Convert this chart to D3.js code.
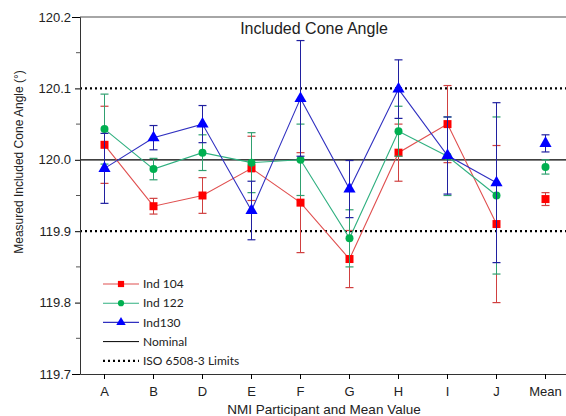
<!DOCTYPE html>
<html>
<head>
<meta charset="utf-8">
<script src="https://cdn.jsdelivr.net/npm/d3@7"></script>
<style>
  body { margin: 0; background: #fff; }
  text { font-family: "Liberation Sans", Arial, sans-serif; fill: #222; }
</style>
</head>
<body>
<svg width="566" height="416"></svg>
<script>
const categories = ["A", "B", "D", "E", "F", "G", "H", "I", "J", "Mean"];
const participants = ["A", "B", "D", "E", "F", "G", "H", "I", "J"];

const ind104 = [120.021, 119.935, 119.950, 119.988, 119.940, 119.861, 120.010, 120.050, 119.910];
const ind104Err = [0.054, 0.011, 0.025, 0.045, 0.070, 0.040, 0.040, 0.054, 0.110];
const ind122 = [120.043, 119.987, 120.010, 119.996, 120.000, 119.890, 120.040, 120.005, 119.950];
const ind122Err = [0.049, 0.015, 0.025, 0.042, 0.050, 0.040, 0.035, 0.055, 0.110];
const ind130 = [119.988, 120.031, 120.050, 119.929, 120.086, 119.959, 120.099, 120.006, 119.968];
const ind130Err = [0.049, 0.017, 0.026, 0.041, 0.081, 0.040, 0.041, 0.054, 0.112];

const meanValues = [119.945, 119.990, 120.023];
const meanErr = [0.009, 0.010, 0.012];

const nominal = 120.0;
const limits = [119.9, 120.1];
const yTicks = [119.7, 119.8, 119.9, 120.0, 120.1, 120.2];

const series = [
  { name: "Ind 104", values: ind104, err: ind104Err, mean: meanValues[0], meanErr: meanErr[0],
    line: "#e05050", bar: "#d04040", fill: "#ff0000", shape: d3.symbolSquare, size: 64 },
  { name: "Ind 122", values: ind122, err: ind122Err, mean: meanValues[1], meanErr: meanErr[1],
    line: "#30b080", bar: "#30a070", fill: "#00b050", shape: d3.symbolCircle, size: 50 },
  { name: "Ind130", values: ind130, err: ind130Err, mean: meanValues[2], meanErr: meanErr[2],
    line: "#3030c0", bar: "#2020a0", fill: "#0000ff", shape: d3.symbolTriangle, size: 64 }
];

const svg = d3.select("svg");
const plotLeft = 80, plotTop = 17, plotBottom = 374, plotRight = 570;

const x = d3.scaleBand().domain(categories).range([plotLeft, plotRight]);
const cx = (c) => x(c) + x.bandwidth() / 2;
const y = d3.scaleLinear().domain([119.7, 120.2]).range([plotBottom, plotTop]);

// frame top
svg.append("line").attr("x1", plotLeft).attr("x2", 566).attr("y1", plotTop).attr("y2", plotTop)
  .attr("stroke", "#888").attr("stroke-width", 1.5);

// reference lines
svg.append("line").attr("x1", plotLeft).attr("x2", 566)
  .attr("y1", y(nominal)).attr("y2", y(nominal)).attr("stroke", "#000").attr("stroke-width", 1.2);
limits.forEach((v) => {
  svg.append("line").attr("x1", plotLeft).attr("x2", 566)
    .attr("y1", y(v)).attr("y2", y(v)).attr("stroke", "#000").attr("stroke-width", 2.2)
    .attr("stroke-dasharray", "2,3");
});

// axes
const yAxis = d3.axisLeft(y).tickValues(yTicks).tickFormat(d3.format(".1f")).tickSize(5).tickPadding(4);
const gy = svg.append("g").attr("transform", `translate(${plotLeft},0)`).call(yAxis);
gy.selectAll(".tick").filter((d) => d === 119.7 || d === 120.2).select("line").attr("x2", -8);
gy.selectAll("text").style("font-size", "13px").attr("fill", "#333");
gy.select(".domain").attr("stroke", "#333");
const minor = d3.range(119.75, 120.2, 0.1);
gy.selectAll(".minor").data(minor).enter().append("line")
  .attr("x1", 0).attr("x2", -4).attr("y1", (d) => y(d)).attr("y2", (d) => y(d)).attr("stroke", "#555");

const xAxis = d3.axisBottom(x).tickSize(5).tickSizeOuter(0).tickPadding(8);
const gx = svg.append("g").attr("transform", `translate(0,${plotBottom})`).call(xAxis);
gx.selectAll("text").style("font-size", "13px").attr("fill", "#333");
gx.select(".domain").attr("stroke", "#333");

// error bars + lines + markers
series.forEach((s) => {
  const pts = participants.map((c, i) => ({ c, v: s.values[i], e: s.err[i] }));
  pts.push({ c: "Mean", v: s.mean, e: s.meanErr });
  const g = svg.append("g");
  pts.forEach((p) => {
    const px = cx(p.c);
    g.append("line").attr("x1", px).attr("x2", px).attr("y1", y(p.v - p.e)).attr("y2", y(p.v + p.e))
      .attr("stroke", s.bar).attr("stroke-width", 1);
    [p.v - p.e, p.v + p.e].forEach((v) => {
      g.append("line").attr("x1", px - 4).attr("x2", px + 4).attr("y1", y(v)).attr("y2", y(v))
        .attr("stroke", s.bar).attr("stroke-width", 1.2);
    });
  });
  g.append("path").datum(pts.slice(0, participants.length))
    .attr("fill", "none").attr("stroke", s.line).attr("stroke-width", 1.1)
    .attr("d", d3.line().x((d) => cx(d.c)).y((d) => y(d.v)));
  g.selectAll(".m").data(pts).enter().append("path")
    .attr("transform", (d) => `translate(${cx(d.c)},${y(d.v)})`)
    .attr("d", d3.symbol().type(s.shape).size(s.size)).attr("fill", s.fill);
});

// title
svg.append("text").attr("x", 314).attr("y", 34).attr("text-anchor", "middle")
  .style("font-size", "16px").attr("fill", "#111").text("Included  Cone Angle");

// axis labels
svg.append("text").attr("transform", "translate(23,162) rotate(-90)").attr("text-anchor", "middle")
  .style("font-size", "12px").attr("fill", "#333").text("Measured Included Cone Angle (°)");
svg.append("text").attr("x", 324).attr("y", 414).attr("text-anchor", "middle")
  .style("font-size", "13.5px").attr("fill", "#333").text("NMI Participant and Mean Value");

// legend
const legend = [
  ...series.map((s) => ({ name: s.name, stroke: s.line, fill: s.fill, shape: s.shape, size: s.size * 0.6, dash: null, w: 1.1 })),
  { name: "Nominal", stroke: "#000", dash: null, w: 1 },
  { name: "ISO 6508-3 Limits", stroke: "#000", dash: "2,3", w: 2.2 }
];
const lg = svg.append("g").selectAll("g").data(legend).enter().append("g")
  .attr("transform", (d, i) => `translate(103,${284 + i * 19.2})`);
lg.append("line").attr("x1", 0).attr("x2", 36).attr("stroke", (d) => d.stroke)
  .attr("stroke-width", (d) => d.w).attr("stroke-dasharray", (d) => d.dash);
lg.filter((d) => d.shape).append("path").attr("transform", "translate(18,0)")
  .attr("d", (d) => d3.symbol().type(d.shape).size(d.size)()).attr("fill", (d) => d.fill);
lg.append("text").attr("x", 40).attr("dy", "0.35em").style("font-family", "Lato, 'Open Sans', sans-serif")
  .style("font-size", "12px").attr("fill", "#333")
  .text((d) => d.name);
</script>
</body>
</html>
